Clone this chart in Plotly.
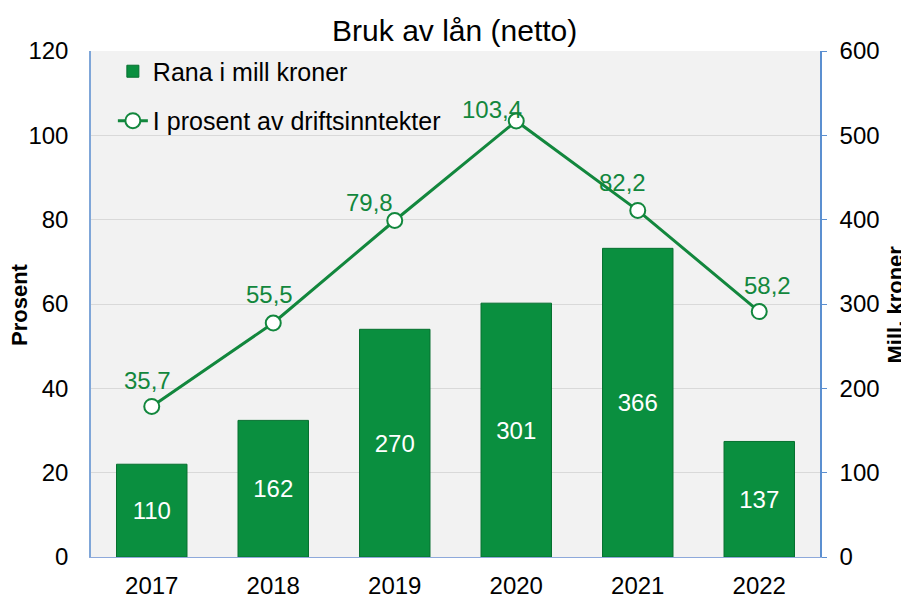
import plotly.graph_objects as go

years = ["2017", "2018", "2019", "2020", "2021", "2022"]
mill_kroner = [110, 162, 270, 301, 366, 137]
prosent = [35.7, 55.5, 79.8, 103.4, 82.2, 58.2]

bar_name = "Rana i mill kroner"
line_name = "I prosent av driftsinntekter"
title_text = "Bruk av lån (netto)"
left_title = "Prosent"
right_title = "Mill. kroner"

# label placement tweaks (pixels), style only
label_dx = [-4, -4, -25, -24, -15, 8]
label_dy = [26, 28, 18, 12, 28, 26]

GREEN = "#0A8F3F"
LINE_GREEN = "#12873D"
FONT = "Liberation Sans, Arial, sans-serif"

fig = go.Figure()
fig.add_trace(go.Bar(
    x=years, y=mill_kroner, name=bar_name, yaxis="y2",
    legendgroup="a",
    marker=dict(color=GREEN, line=dict(color="#06702F", width=1)),
    text=[str(v) for v in mill_kroner], textposition="inside",
    insidetextanchor="middle", textangle=0,
    textfont=dict(color="white", size=24, family=FONT),
))
fig.add_trace(go.Scatter(
    x=years, y=prosent, name=line_name, yaxis="y",
    legendgroup="b",
    mode="lines+markers",
    line=dict(color=LINE_GREEN, width=3),
    marker=dict(size=15, color="white", line=dict(color=LINE_GREEN, width=2)),
))
for i, (yv, dx, dy) in enumerate(zip(prosent, label_dx, label_dy)):
    fig.add_annotation(x=i, y=yv, xref="x", yref="y",
                       text=f"{yv:.1f}".replace(".", ","), showarrow=False,
                       xshift=dx, yshift=dy,
                       font=dict(color=LINE_GREEN, size=24, family=FONT))

# axis titles as rotated annotations (placed closer than plotly's standoff allows)
fig.add_annotation(x=-0.0988, y=0.5, xref="paper", yref="paper", text=f"<b>{left_title}</b>",
                   textangle=-90, showarrow=False, xanchor="center", yanchor="middle",
                   font=dict(size=22, family=FONT, color="black"))
fig.add_annotation(x=1.1035, y=0.5, xref="paper", yref="paper", text=f"<b>{right_title}</b>",
                   textangle=-90, showarrow=False, xanchor="center", yanchor="middle",
                   font=dict(size=22, family=FONT, color="black"))

# the page body has an 8px margin, so margins are shifted to compensate
fig.update_layout(
    width=909, height=598,
    margin=dict(l=83, r=97, t=43, b=49, autoexpand=False),
    paper_bgcolor="white", plot_bgcolor="#F2F2F2",
    font=dict(family=FONT, color="black", size=24),
    title=dict(text=title_text, x=0.4914, xanchor="center", y=0.962, yanchor="middle",
               font=dict(size=30, family=FONT)),
    bargap=0.42,
    showlegend=True,
    legend=dict(x=0.030, y=1.005, xanchor="left", yanchor="top",
                bgcolor="rgba(0,0,0,0)", font=dict(size=25, family=FONT),
                traceorder="grouped", tracegroupgap=14, itemsizing="trace"),
    xaxis=dict(type="category", range=[-0.5, len(years) - 0.5], autorange=False,
               showgrid=False, showline=True, linecolor="#8EA9DB",
               linewidth=1, ticks="", tickfont=dict(size=24), ticklabelstandoff=7,
               automargin=False),
    yaxis=dict(range=[0, 120], dtick=20, showgrid=True, gridcolor="#D9D9D9",
               showline=True, linecolor="#7FA6D8", linewidth=1.5, ticks="",
               tickfont=dict(size=24), zeroline=False, ticklabelstandoff=16,
               automargin=False),
    yaxis2=dict(range=[0, 600], dtick=100, overlaying="y", side="right",
                showgrid=False, showline=True, linecolor="#5B8FD0", linewidth=1.5,
                ticks="outside", ticklen=5, tickcolor="#5B8FD0",
                tickfont=dict(size=24), zeroline=False, ticklabelstandoff=8,
                automargin=False),
)

fig.write_html("out.html")
